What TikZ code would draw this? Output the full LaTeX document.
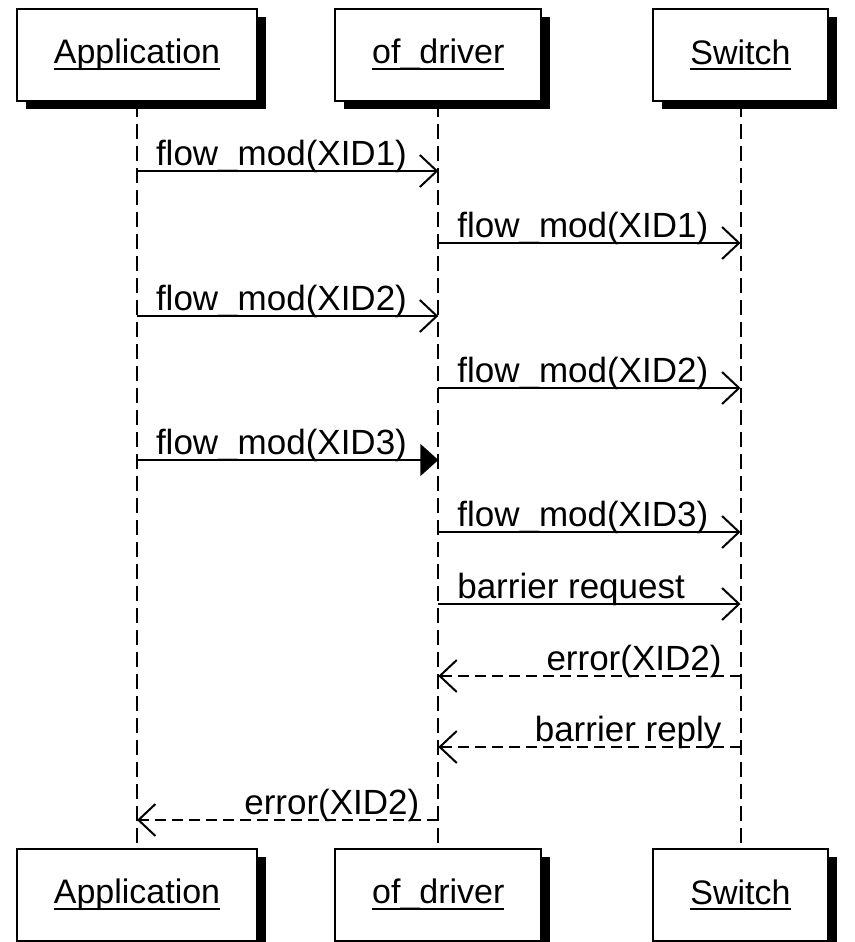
\documentclass[tikz,border=0pt]{standalone}
\usepackage{fontspec}
\setmainfont{Liberation Sans}
\usetikzlibrary{arrows.meta,positioning,shadows}

\newcommand{\objname}[1]{\setbox0\hbox{#1}\rlap{\rule[-6pt]{\wd0}{2pt}}\box0}

\begin{document}
\begin{tikzpicture}[
  x=1pt,y=1pt,
  font=\fontsize{34}{40}\selectfont,
  actor/.style={draw,line width=2pt,fill=white,minimum height=92pt,inner xsep=37pt,
    drop shadow={shadow xshift=9pt,shadow yshift=-8pt,fill=black,opacity=1}},
  life/.style={line width=2pt,dash pattern=on 15pt off 7pt},
  msg/.style={line width=2pt,-{Straight Barb[length=17pt,width=32pt,line width=2pt]}},
  sync/.style={line width=2pt,-{Triangle[length=18pt,width=32pt]}},
  reply/.style={msg,dash pattern=on 11pt off 6pt},
  lbl/.style={inner sep=0pt,font=\fontsize{35}{40}\selectfont},
  fwd/.style={lbl,at start,anchor=base west,xshift=18pt,yshift=6pt},
  bwd/.style={lbl,at start,anchor=base east,xshift=-18pt,yshift=6pt},
]
  \useasboundingbox (0,0) rectangle (854,-942);

  \node[actor] (app) at (137,-55) {\objname{Application}};
  \node[actor,right=76pt of app] (drv) {\objname{of\_driver}};
  \node[actor,right=110pt of drv] (sw) {\objname{Switch}};

  \node[actor,below=746pt of app] (appB) {\objname{Application}};
  \node[actor,below=746pt of drv] (drvB) {\objname{of\_driver}};
  \node[actor,below=746pt of sw] (swB) {\objname{Switch}};

  \draw[life] (app) -- (appB);
  \draw[life] (drv) -- (drvB);
  \draw[life] (sw) -- (swB);

  \foreach \n/\y in {1/171,2/243,3/316,4/388,5/460,6/532,7/604,8/676,9/747,10/820}{
    \coordinate (a\n) at (app |- 0,-\y);
    \coordinate (d\n) at (drv |- 0,-\y);
    \coordinate (s\n) at (sw |- 0,-\y);
  }

  \draw[msg] (a1) -- node[fwd]{flow\_mod(XID1)} (d1);
  \draw[msg] (d2) -- node[fwd]{flow\_mod(XID1)} (s2);
  \draw[msg] (a3) -- node[fwd]{flow\_mod(XID2)} (d3);
  \draw[msg] (d4) -- node[fwd]{flow\_mod(XID2)} (s4);
  \draw[sync] (a5) -- node[fwd]{flow\_mod(XID3)} (d5);
  \draw[msg] (d6) -- node[fwd]{flow\_mod(XID3)} (s6);
  \draw[msg] (d7) -- node[fwd]{barrier request} (s7);
  \draw[reply] (s8) -- node[bwd]{error(XID2)} (d8);
  \draw[reply] (s9) -- node[bwd]{barrier reply} (d9);
  \draw[reply] (d10) -- node[bwd]{error(XID2)} (a10);
\end{tikzpicture}
\end{document}
